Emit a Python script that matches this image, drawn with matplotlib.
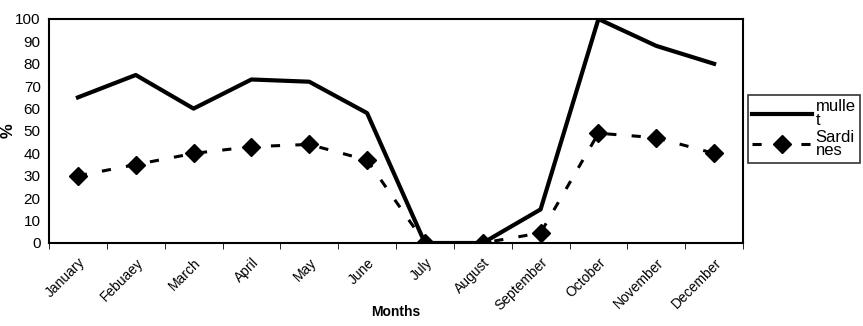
import numpy as np
from matplotlib import pyplot as plt

months = ["January", "Febuaey", "March", "April", "May", "June", "July",
          "August", "September", "October", "November", "December"]
mullet = [65, 75, 60, 73, 72, 58, 0, 0, 15, 100, 88, 80]
sardines = [30, 35, 40, 43, 44, 37, 0, 0, 4.5, 49, 47, 40]

plt.rcParams['font.family'] = ['Liberation Sans', 'DejaVu Sans']

fig = plt.figure(figsize=(8.63, 3.26), dpi=100)
ax = fig.add_axes([49 / 863, 1 - 243 / 326, 694 / 863, 224 / 326])

x = np.arange(len(months))
ax.plot(x, mullet, color="black", linewidth=3, label="mulle\nt")
ax.plot(x, sardines, color="black", linewidth=2.2, linestyle=(0, (3, 5)),
        marker="D", markersize=9, label="Sardi\nnes")

ax.set_xlim(-0.5, 11.5)
ax.set_ylim(0, 100)
ax.set_yticks(range(0, 101, 10))
ax.set_xticks(x)
ax.set_xticklabels(months, rotation=45, ha="right", rotation_mode="anchor", fontsize=10)
ax.set_xticks(np.arange(-0.5, 12, 1), minor=True)
ax.tick_params(axis="x", which="major", length=0, pad=9)
ax.tick_params(axis="x", which="minor", length=4, direction="out")
ax.tick_params(axis="y", length=0, labelsize=11, pad=6)
for s in ax.spines.values():
    s.set_linewidth(1.5)

ax.set_ylabel("%", fontsize=12, fontweight="bold", labelpad=0)
ax.set_xlabel("Months", fontsize=10, fontweight="bold", labelpad=-6)

leg = ax.legend(loc="upper left", bbox_to_anchor=(748 / 863, 1 - 95 / 326),
                bbox_transform=fig.transFigure, borderaxespad=0, frameon=True,
                fancybox=False, edgecolor="black", fontsize=12, handlelength=3.6,
                borderpad=0.25, labelspacing=0.1, handletextpad=0.2)
leg.get_frame().set_linewidth(1.2)
for t in leg.get_texts():
    t.set_linespacing(0.9)

fig.savefig("out.png", dpi=100)
